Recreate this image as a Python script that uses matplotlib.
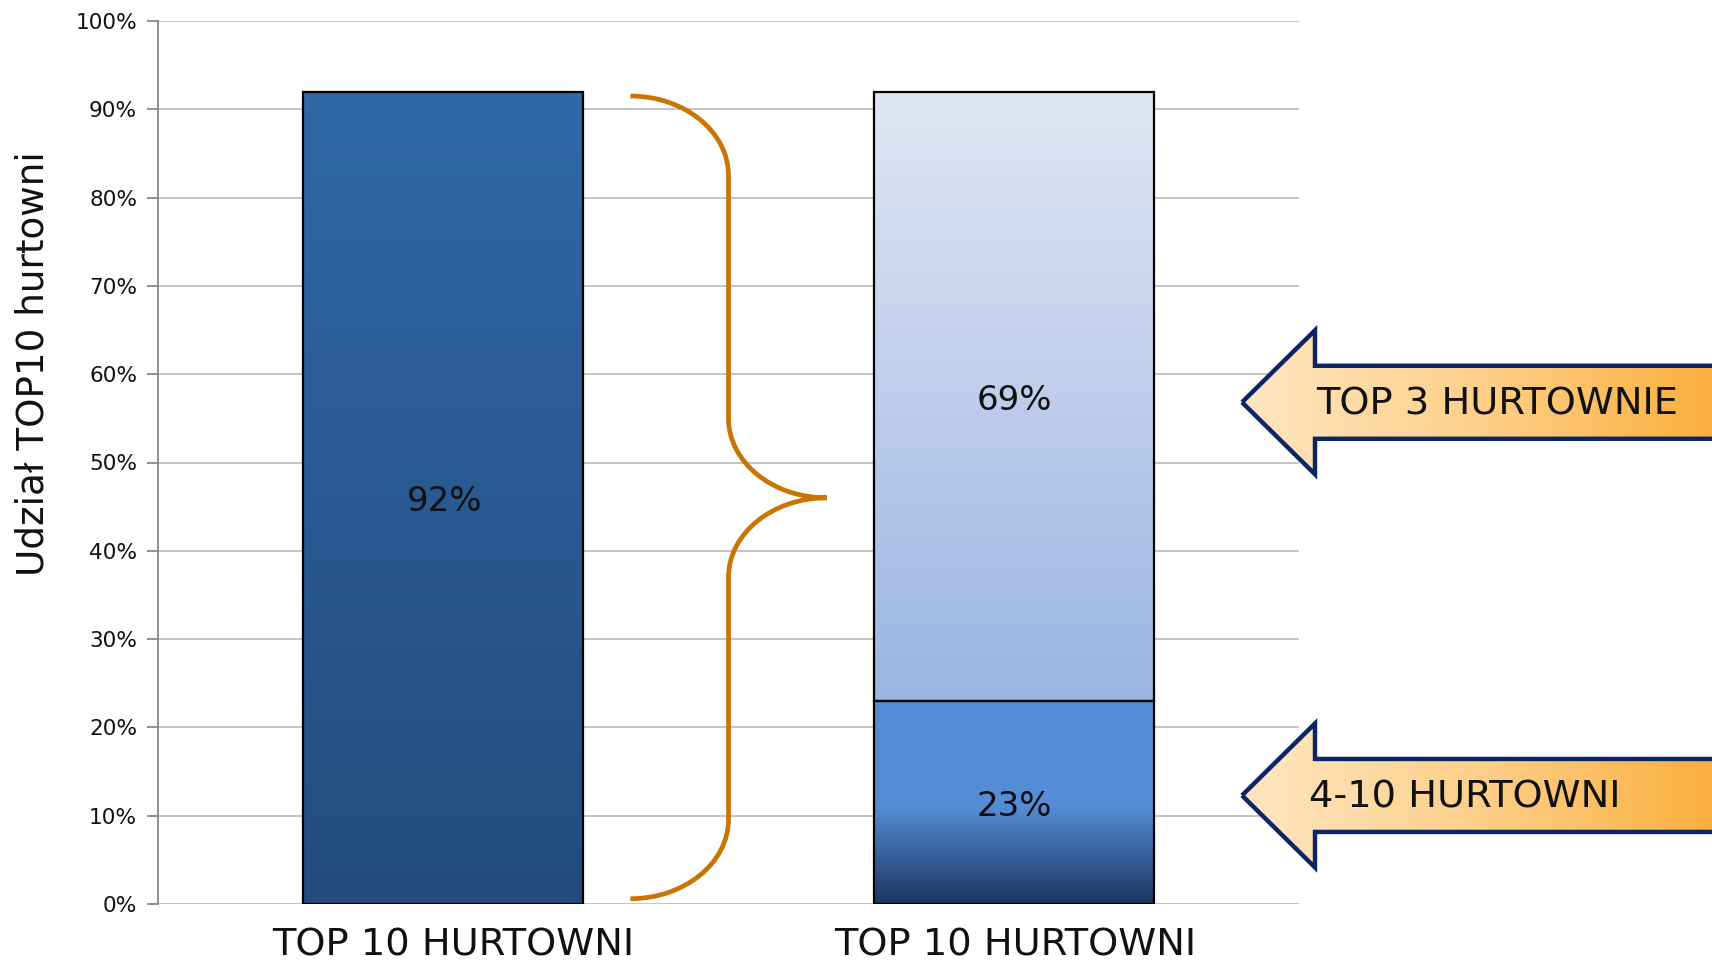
import matplotlib
matplotlib.use("Agg")
import matplotlib.pyplot as plt
import numpy as np
from matplotlib.colors import to_rgb
from matplotlib.patches import Polygon, Rectangle, PathPatch
from matplotlib.path import Path
from matplotlib.transforms import IdentityTransform, offset_copy

# data
categories = ["TOP 10 HURTOWNI", "TOP 10 HURTOWNI"]
total_share = 92
top3_share = 69
rest_share = 23
bar_labels = ["92%", "69%", "23%"]
arrow_labels = ["TOP 3 HURTOWNIE", "4-10 HURTOWNI"]
ylabel = "Udział TOP10 hurtowni"
yticks = list(range(0, 101, 10))

W, H = 1712, 961
BAR_W = 0.49
BIG = 27.6


def gradient(stops, n=256):
    pos = np.linspace(0, 1, n)
    ps = [p for p, _ in stops]
    cols = np.array([to_rgb(c) for _, c in stops])
    return np.stack([np.interp(pos, ps, cols[:, k]) for k in range(3)], axis=-1)


def gradient_bar(ax, x, bottom, height, stops):
    # stops go from bottom (0) to top (1)
    rect = Rectangle((x - BAR_W / 2, bottom), BAR_W, height, facecolor="none",
                     edgecolor="black", lw=1.6, zorder=3)
    ax.add_patch(rect)
    img = gradient(stops)[:, None, :]
    im = ax.imshow(img, extent=(x - BAR_W / 2, x + BAR_W / 2, bottom, bottom + height),
                   origin="lower", aspect="auto", interpolation="bilinear", zorder=2)
    im.set_clip_path(rect)


def brace_path(x0, xv, xt, ytop, ymid, ybot, r):
    k = 0.552
    verts = [
        (x0, ytop),
        (x0 + k * (xv - x0), ytop), (xv, ytop - r + k * r), (xv, ytop - r),
        (xv, ymid + r),
        (xv, ymid + r - k * r), (xt - k * (xt - xv), ymid), (xt, ymid),
        (xt - k * (xt - xv), ymid), (xv, ymid - r + k * r), (xv, ymid - r),
        (xv, ybot + r),
        (xv, ybot + r - k * r), (x0 + k * (xv - x0), ybot), (x0, ybot),
    ]
    codes = [Path.MOVETO] + [Path.CURVE4] * 3 + [Path.LINETO] + [Path.CURVE4] * 6 \
        + [Path.LINETO] + [Path.CURVE4] * 3
    return Path(verts, codes)


def shift(fig, dx, dy):
    return offset_copy(IdentityTransform(), fig=fig, x=dx, y=dy, units="dots")


fig = plt.figure(figsize=(W / 100, H / 100), dpi=100)
ax = fig.add_axes([158 / W, 1 - 904 / H, (1299 - 158) / W, (904 - 21) / H])

# bars
gradient_bar(ax, 0, 0, total_share, [(0, "#234C7C"), (1, "#3068A8")])
gradient_bar(ax, 1, rest_share, top3_share, [(0, "#9BB5E2"), (1, "#E0E6F4")])
gradient_bar(ax, 1, 0, rest_share, [(0, "#1C355E"), (0.48, "#548DD6"), (1, "#558ED5")])

lbl_tr = ax.transData + shift(fig, 1, -4)
label_pos = [(0, total_share / 2), (1, rest_share + top3_share / 2), (1, rest_share / 2)]
for (x, y), txt in zip(label_pos, bar_labels):
    ax.text(x, y, txt, ha="center", va="center", fontsize=24.5, color="#111111",
            zorder=4, transform=lbl_tr)

# brace between the bars
gap = 0.083
brace = brace_path(BAR_W / 2 + gap, 0.5, 1 - BAR_W / 2 - gap,
                   total_share - 0.5, total_share / 2, 0.6, 9)
ax.add_patch(PathPatch(brace, facecolor="none", edgecolor="#C87504", lw=3.4, zorder=3,
                       capstyle="butt", joinstyle="miter"))

ax.set_xlim(-0.5, 1.5)
ax.set_ylim(0, 100)
ax.set_yticks(yticks)
ax.set_yticklabels([f"{v}%" for v in yticks], fontsize=15.6, color="#111111")
ax.set_xticks([0, 1])
ax.set_xticklabels(categories, fontsize=BIG, color="#111111")
ax.tick_params(axis="x", length=0, pad=18)
ax.tick_params(axis="y", length=8, width=1.3, color="#888888", pad=7)
ax.grid(axis="y", color="#BFBFBF", lw=1.3)
ax.set_axisbelow(True)
for side in ("top", "right", "bottom"):
    ax.spines[side].set_visible(False)
ax.spines["left"].set_color("#888888")
ax.spines["left"].set_linewidth(1.3)
# first category label sits a little right of its bar centre in the original
xt_labels = ax.get_xticklabels()
xt_labels[0].set_transform(xt_labels[0].get_transform() + shift(fig, 10, 2))
xt_labels[1].set_transform(xt_labels[1].get_transform() + shift(fig, 1, 1))

ax.set_ylabel(ylabel, fontsize=26.8, color="#111111")
ax.yaxis.set_label_coords(-0.093, 0.612)

# block arrows on the right, drawn in pixel space
over = fig.add_axes([0, 0, 1, 1])
over.set_axis_off()
over.patch.set_alpha(0)

arrow_vals = [rest_share + top3_share / 2, rest_share / 2]
arrow_nudge = [-6, 7]
text_x = [1316, 1309]
for val, nudge, label, tx in zip(arrow_vals, arrow_nudge, arrow_labels, text_x):
    yc = ax.transData.transform((0, val))[1] + nudge
    x_tip, x_back, x_end = 1242, 1315, W + 20
    hh, sh = 72, 36.5
    pts = [(x_tip, yc), (x_back, yc + hh), (x_back, yc + sh), (x_end, yc + sh),
           (x_end, yc - sh), (x_back, yc - sh), (x_back, yc - hh)]
    poly = Polygon(pts, closed=True, facecolor="none", edgecolor="#0B2566", lw=3.2,
                   joinstyle="miter", zorder=3)
    over.add_patch(poly)
    img = gradient([(0, "#FFE6C2"), (0.5, "#FDD08A"), (1, "#FBAF3E")])[None, :, :]
    im = over.imshow(img, extent=(x_tip, W, yc - hh, yc + hh), origin="lower",
                     aspect="auto", interpolation="bilinear", zorder=2)
    im.set_clip_path(poly)
    over.text(tx, yc - 2, label, ha="left", va="center", fontsize=BIG, color="#111111", zorder=4)

over.set_xlim(0, W)
over.set_ylim(0, H)

fig.savefig("out.png", dpi=100)
